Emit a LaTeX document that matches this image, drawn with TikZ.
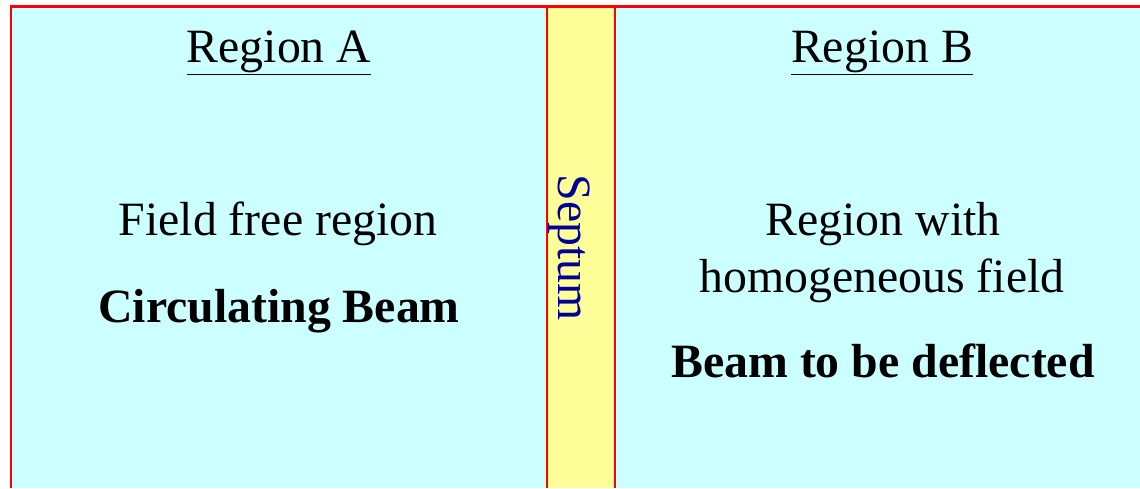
\documentclass[tikz,border=0pt]{standalone}
\usepackage{fontspec}
\setmainfont{Liberation Serif}
\usepackage{xcolor}
\definecolor{fieldcyan}{HTML}{CCFFFF}
\definecolor{septyellow}{HTML}{FFFF99}
\definecolor{septblue}{HTML}{000099}

\begin{document}
\begin{tikzpicture}[
  x=1pt, y=-1pt,
  % Plain label text
  txt/.style={font=\fontsize{47.8}{56}\selectfont, anchor=base, inner sep=0pt},
  % Bold label text
  btxt/.style={txt, font=\fontsize{47.8}{56}\selectfont\bfseries},
  % Red boundary lines
  wall/.style={draw=red, line width=2.4pt}
]
\useasboundingbox (0,0) rectangle (1140,488);

% ── Background regions ─────────────────────────────────────────────────────
\fill[fieldcyan]  (11,6.5)  rectangle (1140,488);
\fill[septyellow] (547,6.5) rectangle (615,488);

\draw[wall] (11,488) -- (11,6.5) -- (1140,6.5);
\draw[wall] (547,6.5) -- (547,488);
\draw[wall] (615,6.5) -- (615,488);

% ── Region A ───────────────────────────────────────────────────────────────
\node[txt]  (hdrA)  at (279,62)  {\underline{Region A}};
\node[txt]  (freeA) at (278,235) {Field free region};
\node[btxt] (beamA) at (279,322) {Circulating Beam};

% ── Septum ─────────────────────────────────────────────────────────────────
\node[txt, rotate=-90, text=septblue] (septum) at (558,248) {Septum};

% ── Region B ───────────────────────────────────────────────────────────────
\node[txt]  (hdrB)  at (882,62)  {\underline{Region B}};
\node[txt]  (withB) at (883,235) {Region with};
\node[txt]  (homB)  at (882,292) {homogeneous field};
\node[btxt] (beamB) at (883,377) {Beam to be deflected};

\end{tikzpicture}
\end{document}
